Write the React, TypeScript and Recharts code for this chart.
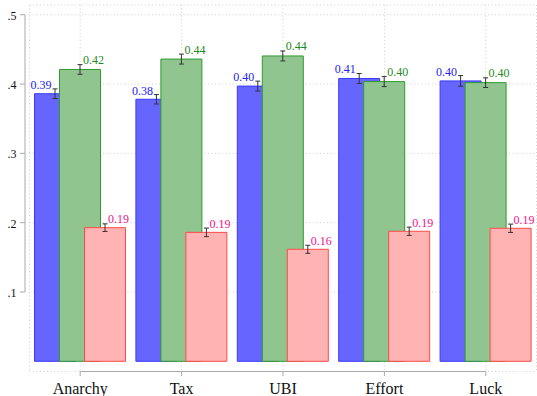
import React from 'react';
import { BarChart, Bar, XAxis, YAxis, CartesianGrid, ErrorBar, LabelList } from 'recharts';

// Categories and series values (means with half-width of the confidence bars)
const categories = ['Anarchy', 'Tax', 'UBI', 'Effort', 'Luck'];
const blueMeans = [0.386, 0.378, 0.397, 0.408, 0.4045];
const blueErr = [0.007, 0.0068, 0.0072, 0.0072, 0.0077];
const greenMeans = [0.421, 0.436, 0.4405, 0.4035, 0.402];
const greenErr = [0.007, 0.0072, 0.0072, 0.0072, 0.007];
const redMeans = [0.1928, 0.186, 0.1616, 0.1876, 0.1919];
const redErr = [0.0055, 0.0062, 0.0058, 0.006, 0.006];
const yTicks = [0.1, 0.2, 0.3, 0.4, 0.5];

const data = categories.map((cat, i) => ({
  cat,
  blue: blueMeans[i],
  blueErr: blueErr[i],
  green: greenMeans[i],
  greenErr: greenErr[i],
  red: redMeans[i],
  redErr: redErr[i],
}));

// Layout
const W = 537;
const H = 396;
const MARGIN = { top: 5, right: 0.5, left: 0, bottom: 0 };
const Y_AXIS_W = 29.5;
const X_AXIS_H = 24.5;
const Y_MIN = -0.0147;
const Y_MAX = 0.514;
const PLOT_LEFT = MARGIN.left + Y_AXIS_W;
const PLOT_W = W - PLOT_LEFT - MARGIN.right;
const PLOT_H = H - MARGIN.top - MARGIN.bottom - X_AXIS_H;
const PLOT_BOTTOM = MARGIN.top + PLOT_H;
const PX_PER_UNIT = PLOT_H / (Y_MAX - Y_MIN);
const BAND = PLOT_W / categories.length;

const FONT = "'Liberation Serif', 'DejaVu Serif', serif";
const AXIS_GRAY = '#a9a9a9';
const Y_LINE_X = 25;

const fmtTick = (v: number) => v.toFixed(1).replace(/^0/, '');

const YTick = (props: any) => {
  const { y, payload } = props;
  const v = payload.value as number;
  const isLowest = Math.abs(v - yTicks[0]) < 1e-9;
  const step = (yTicks[1] - yTicks[0]) * PX_PER_UNIT;
  return (
    <g>
      <line x1={Y_LINE_X - 5} y1={y} x2={Y_LINE_X} y2={y} stroke={AXIS_GRAY} strokeWidth={1} />
      {!isLowest && (
        <line x1={Y_LINE_X} y1={y} x2={Y_LINE_X} y2={y + step} stroke={AXIS_GRAY} strokeWidth={1} />
      )}
      <text x={16.5} y={y + 5} textAnchor="end" style={{ fontFamily: FONT, fontSize: 12 }} fill="#111">
        {fmtTick(v)}
      </text>
    </g>
  );
};

const XTick = (props: any) => {
  const { x, payload, index } = props;
  const axisY = PLOT_BOTTOM;
  const last = index === categories.length - 1;
  return (
    <g>
      <line x1={x} y1={axisY} x2={x} y2={axisY + 4.5} stroke={AXIS_GRAY} strokeWidth={1} />
      {!last && <line x1={x} y1={axisY} x2={x + BAND} y2={axisY} stroke={AXIS_GRAY} strokeWidth={1} />}
      <text x={x} y={393.5} textAnchor="middle" style={{ fontFamily: FONT, fontSize: 16 }} fill="#111">
        {payload.value}
      </text>
    </g>
  );
};

const makeLabel = (errs: number[], color: string, side: 'left' | 'right') => (props: any) => {
  const { x, y, width, value, index } = props;
  const cx = x + width / 2;
  const top = y - errs[index] * PX_PER_UNIT;
  return (
    <text
      x={side === 'left' ? cx - 3.5 : cx + 3}
      y={side === 'left' ? top : top - 0.5}
      textAnchor={side === 'left' ? 'end' : 'start'}
      style={{ fontFamily: FONT, fontSize: 12 }}
      fill={color}
    >
      {Number(value).toFixed(2)}
    </text>
  );
};

export default function App() {
  return (
    <div style={{ position: 'absolute', left: 0, top: 0, width: W, height: H, background: '#fff' }}>
      <BarChart width={W} height={H} data={data} margin={MARGIN} barSize={41} barGap={-16}>
        <CartesianGrid stroke="#cfcfcf" strokeDasharray="1 2.5" />
        <XAxis
          dataKey="cat"
          height={X_AXIS_H}
          axisLine={false}
          tickLine={false}
          interval={0}
          tick={<XTick />}
        />
        <YAxis
          type="number"
          width={Y_AXIS_W}
          domain={[Y_MIN, Y_MAX]}
          allowDataOverflow
          ticks={yTicks}
          axisLine={false}
          tickLine={false}
          tick={<YTick />}
        />
        <Bar dataKey="blue" fill="#6666ff" stroke="#3a3aff" strokeWidth={1} isAnimationActive={false}>
          <ErrorBar dataKey="blueErr" width={2.5} stroke="#333" strokeWidth={1} direction="y" />
          <LabelList dataKey="blue" content={makeLabel(blueErr, '#2424f0', 'left')} />
        </Bar>
        <Bar dataKey="green" fill="#90c590" stroke="#2f9a2f" strokeWidth={1} isAnimationActive={false}>
          <ErrorBar dataKey="greenErr" width={2.5} stroke="#333" strokeWidth={1} direction="y" />
          <LabelList dataKey="green" content={makeLabel(greenErr, '#1f8a1f', 'right')} />
        </Bar>
        <Bar dataKey="red" fill="#ffb3b3" stroke="#ff4a4a" strokeWidth={1} isAnimationActive={false}>
          <ErrorBar dataKey="redErr" width={2.5} stroke="#333" strokeWidth={1} direction="y" />
          <LabelList dataKey="red" content={makeLabel(redErr, '#f0148c', 'right')} />
        </Bar>
      </BarChart>
    </div>
  );
}
